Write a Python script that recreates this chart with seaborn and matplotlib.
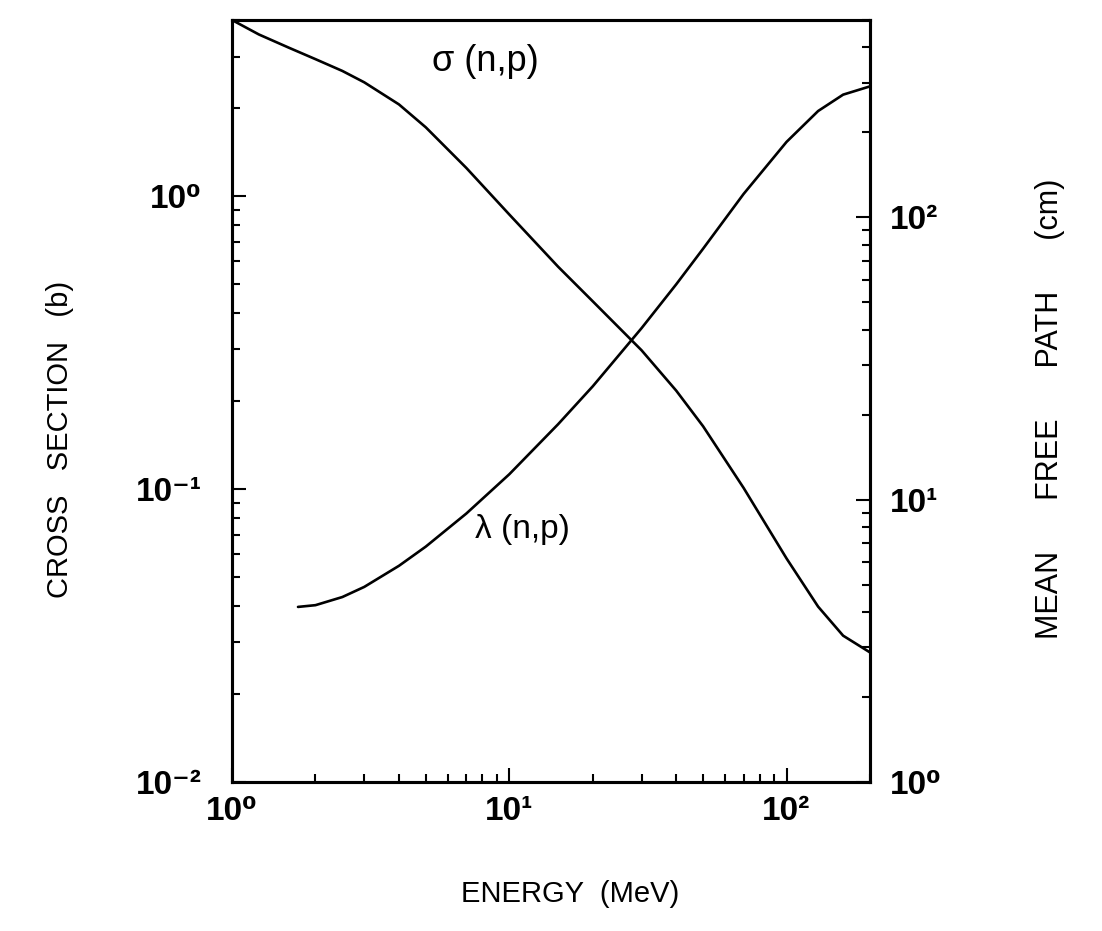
import matplotlib
matplotlib.use("Agg")
import matplotlib.pyplot as plt
import seaborn as sns
import pandas as pd
from matplotlib.ticker import LogLocator, NullFormatter, FixedLocator, FixedFormatter

# ---- data ----
energy_sigma = [1.0, 1.25, 1.6, 2.0, 2.5, 3.0, 4.0, 5.0, 7.0, 10, 15, 20, 30, 40, 50, 70, 100, 130, 160, 200]
sigma_b = [4.0, 3.57, 3.22, 2.94, 2.68, 2.45, 2.06, 1.72, 1.25, 0.867, 0.575, 0.438, 0.298, 0.217,
           0.164, 0.101, 0.058, 0.0397, 0.0316, 0.0277]

energy_lambda = [1.73, 2.0, 2.5, 3.0, 4.0, 5.0, 7.0, 10, 15, 20, 30, 40, 50, 70, 100, 130, 160, 200]
lambda_cm = [4.17, 4.23, 4.52, 4.91, 5.83, 6.82, 8.93, 12.3, 18.5, 25.2, 40.5, 57.9, 77.4, 121,
             185, 238, 272, 291]

x_ticks = [1, 10, 100]
x_tick_labels = ["10⁰", "10¹", "10²"]
yl_ticks = [0.01, 0.1, 1]
yl_tick_labels = ["10⁻²", "10⁻¹", "10⁰"]
yr_ticks = [1, 10, 100]
yr_tick_labels = ["10⁰", "10¹", "10²"]

sig_df = pd.DataFrame({"E": energy_sigma, "s": sigma_b})
lam_df = pd.DataFrame({"E": energy_lambda, "l": lambda_cm})

sns.set_style("white")
plt.rcParams['font.family'] = ['Liberation Sans', 'DejaVu Sans']
plt.rcParams['text.color'] = 'black'
plt.rcParams['axes.labelcolor'] = 'black'
plt.rcParams['xtick.color'] = 'black'
plt.rcParams['ytick.color'] = 'black'

fig = plt.figure(figsize=(11.02, 9.31), dpi=100)
ax = fig.add_axes([232/1102, 1 - 782/931, (870-232)/1102, (782-20)/931])
ax2 = ax.twinx()

sns.lineplot(data=sig_df, x="E", y="s", ax=ax, color="black", linewidth=1.9, sort=False)
sns.lineplot(data=lam_df, x="E", y="l", ax=ax2, color="black", linewidth=1.9, sort=False)

ax.set_xscale("log")
ax.set_yscale("log")
ax2.set_yscale("log")
ax.set_xlim(1, 200)
ax.set_ylim(0.01, 4)
ax2.set_ylim(1, 500)

for a in (ax, ax2):
    for s in a.spines.values():
        s.set_linewidth(2.2)
        s.set_color("black")

ax.xaxis.set_major_locator(FixedLocator(x_ticks))
ax.xaxis.set_major_formatter(FixedFormatter(x_tick_labels))
ax.xaxis.set_minor_locator(LogLocator(base=10, subs=range(2, 10)))
ax.xaxis.set_minor_formatter(NullFormatter())
ax.yaxis.set_major_locator(FixedLocator(yl_ticks))
ax.yaxis.set_major_formatter(FixedFormatter(yl_tick_labels))
ax.yaxis.set_minor_locator(LogLocator(base=10, subs=range(2, 10)))
ax.yaxis.set_minor_formatter(NullFormatter())
ax2.yaxis.set_major_locator(FixedLocator(yr_ticks))
ax2.yaxis.set_major_formatter(FixedFormatter(yr_tick_labels))
ax2.yaxis.set_minor_locator(LogLocator(base=10, subs=range(2, 10)))
ax2.yaxis.set_minor_formatter(NullFormatter())

ax.tick_params(axis="x", which="both", direction="in", bottom=True, top=False, width=1.5)
ax.tick_params(axis="x", which="major", length=10, pad=10, labelsize=24)
ax.tick_params(axis="x", which="minor", length=6)
ax.tick_params(axis="y", which="both", direction="in", left=True, right=False, width=1.5)
ax.tick_params(axis="y", which="major", length=10, pad=22, labelsize=24)
ax.tick_params(axis="y", which="minor", length=6)
ax2.tick_params(axis="y", which="both", direction="in", right=True, left=False, width=1.5)
ax2.tick_params(axis="y", which="major", length=10, pad=14, labelsize=24)
ax2.tick_params(axis="y", which="minor", length=6)

for lab in ax.get_xticklabels() + ax.get_yticklabels() + ax2.get_yticklabels():
    lab.set_fontweight("bold")

ax.set_xlabel("ENERGY  (MeV)", fontsize=21)
ax.set_ylabel("CROSS   SECTION   (b)", fontsize=21)
ax2.set_ylabel("MEAN      FREE      PATH      (cm)", fontsize=22)
ax.xaxis.set_label_coords(0.53, -0.128)
ax.yaxis.set_label_coords(-0.248, 0.45)
ax2.yaxis.set_label_coords(1.258, 0.49)

ax.text(0.397, 0.945, "σ (n,p)", transform=ax.transAxes, fontsize=26, ha="center", va="center")
ax.text(0.455, 0.331, "λ (n,p)", transform=ax.transAxes, fontsize=24, ha="center", va="center")

fig.savefig("out.png", dpi=100)
